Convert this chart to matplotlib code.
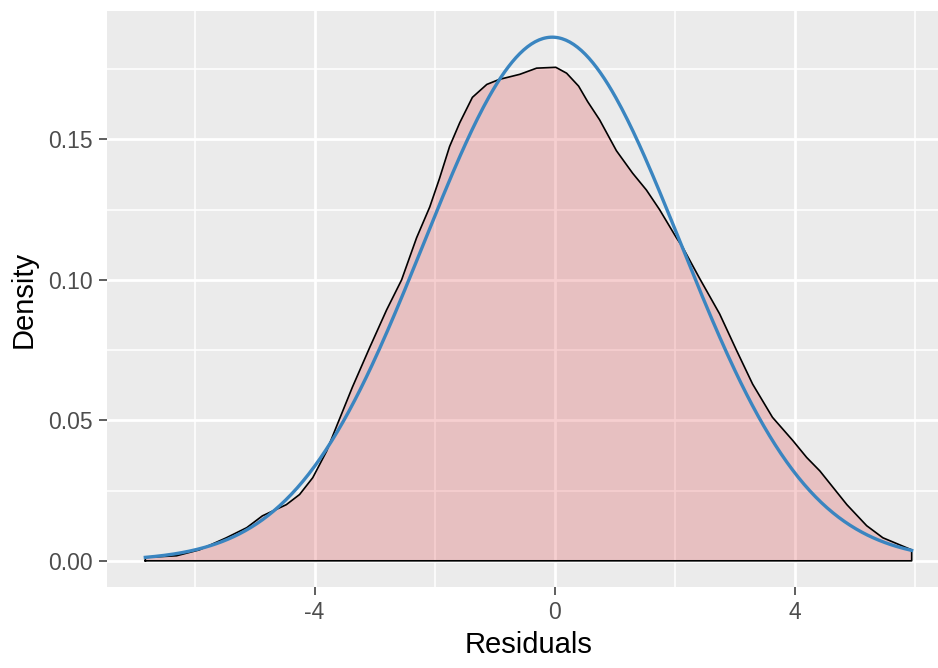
import numpy as np
import matplotlib
matplotlib.use("Agg")
import matplotlib.pyplot as plt
from matplotlib.ticker import FixedLocator, FormatStrFormatter

# Kernel density estimate of the residuals (x, density)
resid_x = [-6.82, -6.30, -5.92, -5.47, -5.13, -4.87, -4.47, -4.25, -4.03, -3.80,
           -3.62, -3.37, -3.08, -2.80, -2.55, -2.30, -2.08, -1.92, -1.75, -1.58,
           -1.37, -1.13, -0.92, -0.58, -0.30, 0.02, 0.20, 0.40, 0.55, 0.75,
           1.03, 1.30, 1.53, 1.75, 2.03, 2.13, 2.42, 2.75, 3.03, 3.30,
           3.63, 3.97, 4.20, 4.42, 4.87, 5.20, 5.47, 5.95]
resid_density = [0.0012, 0.0018, 0.0039, 0.0082, 0.0118, 0.0160, 0.0200, 0.0236, 0.0296, 0.0390,
                 0.0486, 0.0618, 0.0760, 0.0893, 0.1000, 0.1150, 0.1260, 0.1360, 0.1475, 0.1560,
                 0.1650, 0.1696, 0.1714, 0.1732, 0.1754, 0.1757, 0.1736, 0.1690, 0.1635, 0.1570,
                 0.1460, 0.1380, 0.1320, 0.1250, 0.1150, 0.1118, 0.1004, 0.0879, 0.0750, 0.0629,
                 0.0511, 0.0428, 0.0368, 0.0320, 0.0200, 0.0125, 0.0082, 0.0039]

# Parameters of the fitted normal curve
norm_mean = -0.04
norm_sd = 2.14

x_major = [-4, 0, 4]
x_minor = [-6, -2, 2, 6]
y_major = [0.00, 0.05, 0.10, 0.15]
y_minor = [0.025, 0.075, 0.125, 0.175]

plt.rcParams['font.family'] = ['Liberation Sans', 'DejaVu Sans']
plt.rcParams['axes.unicode_minus'] = False

fig = plt.figure(figsize=(9.38, 6.68), dpi=100)
fig.patch.set_facecolor('white')
W, H = 938, 668
ax = fig.add_axes([107 / W, (H - 587) / H, 843 / W, 576 / H])
ax.set_facecolor('#EBEBEB')

rx = np.array(resid_x)
ry = np.array(resid_density)

# normal density over the same range as the KDE
nx = np.linspace(rx[0], rx[-1], 400)
ny = np.exp(-0.5 * ((nx - norm_mean) / norm_sd) ** 2) / (norm_sd * np.sqrt(2 * np.pi))

# ggplot-style 5% expansion of the data range
xr = rx[-1] - rx[0]
ax.set_xlim(rx[0] - 0.05 * xr, rx[-1] + 0.05 * xr)
ytop = ny.max()
ax.set_ylim(-0.05 * ytop, ytop * 1.05)

# grid
for v in x_minor:
    ax.axvline(v, color='white', lw=1.1, zorder=0.5)
for v in y_minor:
    ax.axhline(v, color='white', lw=1.1, zorder=0.5)
for v in x_major:
    ax.axvline(v, color='white', lw=2.0, zorder=0.6)
for v in y_major:
    ax.axhline(v, color='white', lw=2.0, zorder=0.6)

# density area with outline
px = np.r_[rx[0], rx, rx[-1]]
py = np.r_[0, ry, 0]
ax.fill(px, py, facecolor=(223 / 255, 67 / 255, 71 / 255, 0.25), edgecolor='none', zorder=1)
ax.plot(np.r_[px, px[0]], np.r_[py, py[0]], color='black', lw=1.2, zorder=2,
        solid_joinstyle='round')

# normal curve
ax.plot(nx, ny, color='#3A85C0', lw=2.4, zorder=3)

for s in ax.spines.values():
    s.set_visible(False)

ax.xaxis.set_major_locator(FixedLocator(x_major))
ax.yaxis.set_major_locator(FixedLocator(y_major))
ax.yaxis.set_major_formatter(FormatStrFormatter('%.2f'))
ax.tick_params(axis='both', which='major', length=5.5, width=1.1, color='#333333',
               labelcolor='#4D4D4D', labelsize=16.5)
ax.tick_params(axis='x', pad=4.5)
ax.tick_params(axis='y', pad=5)
ax.tick_params(which='minor', length=0)

ax.set_xlabel('Residuals', fontsize=21, color='black', labelpad=5)
ax.set_ylabel('Density', fontsize=21, color='black', labelpad=7)

fig.savefig('out.png', dpi=100, facecolor='white')
